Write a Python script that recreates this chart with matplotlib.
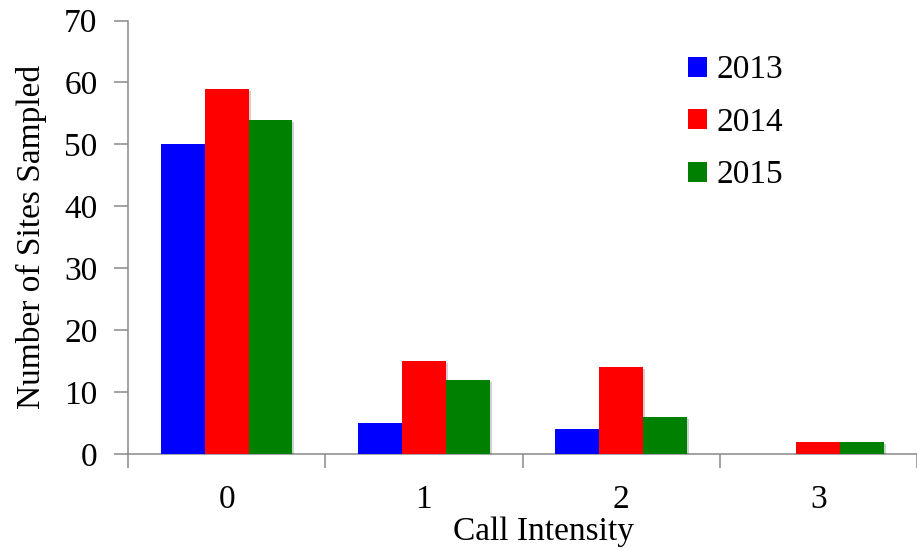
import numpy as np
import matplotlib.pyplot as plt
import matplotlib.patheffects as pe
from matplotlib.patches import Patch

plt.rcParams['font.family'] = ['Liberation Serif', 'DejaVu Serif']

# Site counts per call intensity class
categories = ['0', '1', '2', '3']
years = ['2013', '2014', '2015']
counts_2013 = [50, 5, 4, 0]
counts_2014 = [59, 15, 14, 2]
counts_2015 = [54, 12, 6, 2]
colors = ['#0000ff', '#ff0000', '#008000']

fig = plt.figure(figsize=(9.17, 5.5), dpi=100)
ax = fig.add_axes([128 / 917, 96 / 550, 789 / 917, 433.5 / 550])

x = np.arange(len(categories))
width = 0.222
shadow = [pe.SimplePatchShadow(offset=(1.5, -1.5), alpha=0.2), pe.Normal()]
for i, (vals, c) in enumerate(zip([counts_2013, counts_2014, counts_2015], colors)):
    bars = ax.bar(x + (i - 1) * width, vals, width, color=c, linewidth=0, zorder=3)
    for b in bars:
        if b.get_height() > 0:
            b.set_path_effects(shadow)

ax.set_xlim(-0.5, -0.5 + 789 / 201)
ax.set_ylim(0, 70)
ax.set_yticks(range(0, 71, 10))

# category ticks sit on the group boundaries, labels at group centres
ax.set_xticks(np.arange(-0.5, 4, 1.0))
ax.set_xticklabels([])
ax.set_xticks(x, minor=True)
ax.set_xticklabels(categories, minor=True)
ax.tick_params(axis='x', which='minor', length=0, pad=22, labelsize=24)
ax.tick_params(axis='x', which='major', length=10, width=1.1, color='#898989')
ax.tick_params(axis='y', length=10, width=1.1, color='#898989', labelsize=24, pad=12)

for side in ['top', 'right']:
    ax.spines[side].set_visible(False)
for side in ['left', 'bottom']:
    ax.spines[side].set_color('#898989')
    ax.spines[side].set_linewidth(1.1)

ax.set_ylabel('Number of Sites Sampled', fontsize=24, labelpad=12)
ax.set_xlabel('Call Intensity', fontsize=24)
ax.xaxis.set_label_coords(0.527, -0.145)

handles = [Patch(facecolor=c, edgecolor='none') for c in colors]
ax.legend(handles, years, loc='upper left', bbox_to_anchor=(0.672, 0.99),
          frameon=False, fontsize=24, handlelength=0.55, handleheight=0.55,
          handletextpad=0.3, labelspacing=0.66)

plt.savefig('out.png', dpi=100)
